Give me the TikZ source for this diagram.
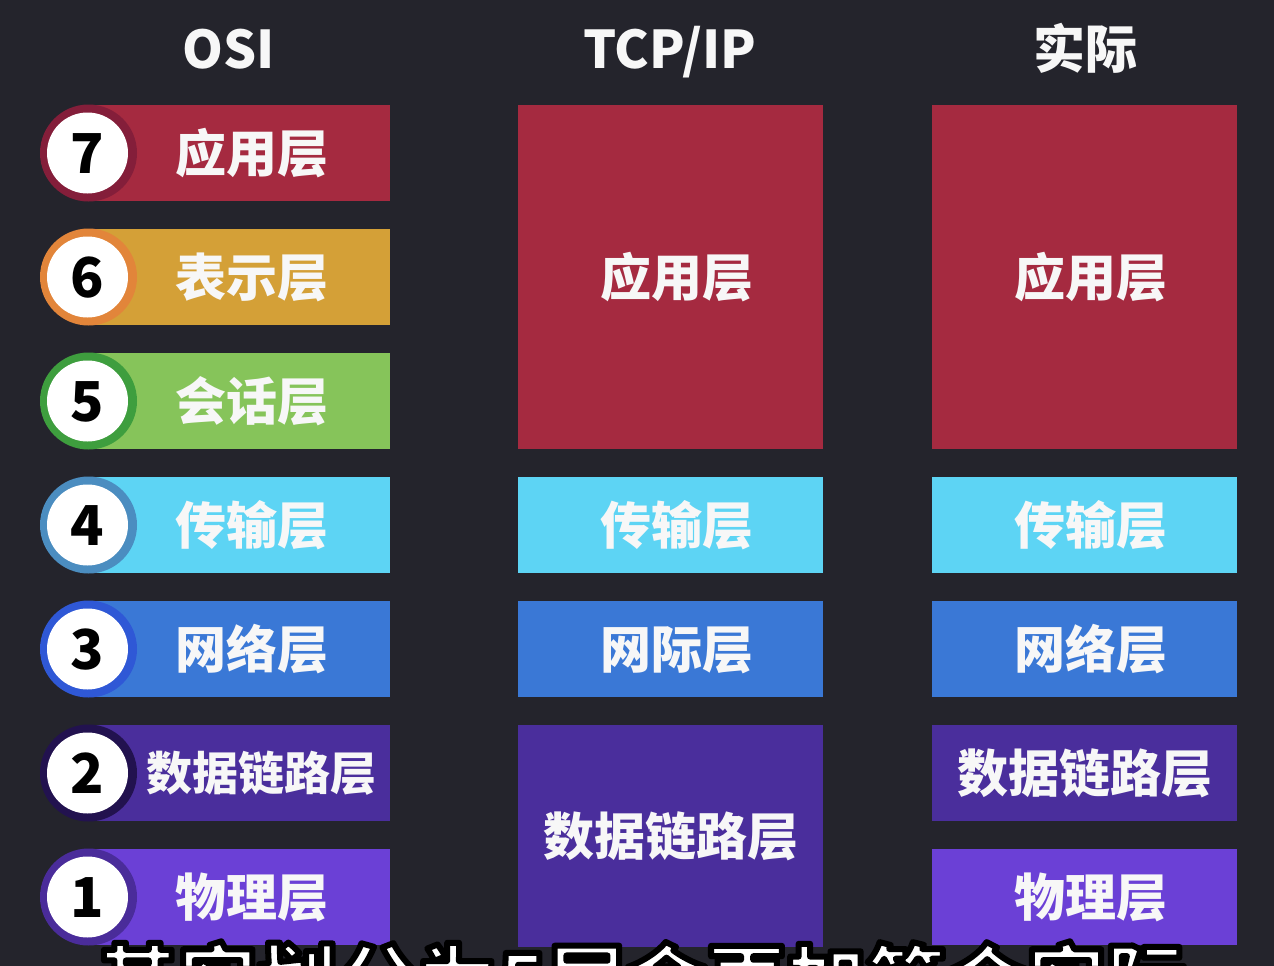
\documentclass[tikz,border=0pt]{standalone}
\usepackage{fontspec}
\setmainfont{Noto Sans CJK SC}
\definecolor{bg}{HTML}{24242C}
\definecolor{cRed}{HTML}{A52A40}\definecolor{rRed}{HTML}{841E3A}
\definecolor{cYel}{HTML}{D4A037}\definecolor{rYel}{HTML}{E2853A}
\definecolor{cGrn}{HTML}{86C45A}\definecolor{rGrn}{HTML}{3E9E3E}
\definecolor{cCya}{HTML}{5DD4F4}\definecolor{rCya}{HTML}{4B8DC0}
\definecolor{cBlu}{HTML}{3A78D6}\definecolor{rBlu}{HTML}{2F58D6}
\definecolor{cDpu}{HTML}{4A2E9C}\definecolor{rDpu}{HTML}{22124F}
\definecolor{cPur}{HTML}{6B40D6}\definecolor{rPur}{HTML}{4A2C9A}
\definecolor{txt}{HTML}{F7F7F7}
\newcommand\outlinetext[1]{\special{pdf:literal direct 0 0 0 RG 6 w 1 j 2 Tr}#1\special{pdf:literal direct 0 Tr}}
\begin{document}
\begin{tikzpicture}[x=1pt,y=-1pt,
  hdr/.style={font=\bfseries\fontsize{52}{52}\selectfont, text=txt, anchor=base, inner sep=0pt},
  barbox/.style={rectangle, inner sep=0pt, draw=none},
  lbl/.style={font=\bfseries\fontsize{51}{51}\selectfont, text=txt, inner sep=0pt, text height=38pt, text depth=0pt},
  lblsm/.style={font=\bfseries\fontsize{46}{46}\selectfont, text=txt, inner sep=0pt, text height=34pt, text depth=0pt},
  ringc/.style={circle, inner sep=0pt, minimum size=97pt},
  numc/.style={circle, fill=white, inner sep=0pt, minimum size=81pt, font=\bfseries\fontsize{55}{55}\selectfont, text=black, text height=40pt, text depth=0pt},
  sub/.style={font=\bfseries\fontsize{80}{80}\selectfont, anchor=base, inner sep=0pt}
]
\fill[bg] (0,0) rectangle (1274,966);
\useasboundingbox (0,0) rectangle (1274,966);
\begin{scope}
\clip (0,0) rectangle (1274,966);
% headers
\node[hdr] (hOSI) at (229,68) {OSI};
\node[hdr] (hTCP) at (670,68) {TCP/IP};
\node[hdr] (hReal) at (1085,68) {实际};

% OSI column
\foreach \n/\c/\r/\t/\s in {7/cRed/rRed/应用层/lbl, 6/cYel/rYel/表示层/lbl, 5/cGrn/rGrn/会话层/lbl, 4/cCya/rCya/传输层/lbl, 3/cBlu/rBlu/网络层/lbl, 1/cPur/rPur/物理层/lbl}{
  \pgfmathsetmacro{\yc}{153+124*(7-\n)}
  \node[barbox, fill=\c, minimum width=300pt, minimum height=96pt] (obar\n) at (240,\yc) {};
  \node[\s] (olbl\n) at (252,\yc) {\t};
  \node[ringc, fill=\r] (oring\n) at (88.5,\yc) {};
  \node[numc] (onum\n) at (87.5,\yc) {\n};
}
\node[barbox, fill=cDpu, minimum width=300pt, minimum height=96pt] (obar2) at (240,773) {};
\node[lblsm] (olbl2) at (261,773) {数据链路层};
\node[ringc, fill=rDpu] (oring2) at (88.5,773) {};
\node[numc] (onum2) at (87.5,773) {2};

% TCP/IP column
\node[barbox, fill=cRed, minimum width=305pt, minimum height=344pt] (tApp) at (670.5,277) {};
\node[lbl] (tAppL) at (676.5,277) {应用层};
\node[barbox, fill=cCya, minimum width=305pt, minimum height=96pt] (tTra) at (670.5,525) {};
\node[lbl] (tTraL) at (676.5,525) {传输层};
\node[barbox, fill=cBlu, minimum width=305pt, minimum height=96pt] (tNet) at (670.5,649) {};
\node[lbl] (tNetL) at (676.5,649) {网际层};
\node[barbox, fill=cDpu, minimum width=305pt, minimum height=222pt, lbl] (tDat) at (670.5,836) {数据链路层};

% Real column
\node[barbox, fill=cRed, minimum width=305pt, minimum height=344pt] (rApp) at (1084.5,277) {};
\node[lbl] (rAppL) at (1090.5,277) {应用层};
\node[barbox, fill=cCya, minimum width=305pt, minimum height=96pt] (rTra) at (1084.5,525) {};
\node[lbl] (rTraL) at (1090.5,525) {传输层};
\node[barbox, fill=cBlu, minimum width=305pt, minimum height=96pt] (rNet) at (1084.5,649) {};
\node[lbl] (rNetL) at (1090.5,649) {网络层};
\node[barbox, fill=cDpu, minimum width=305pt, minimum height=96pt, lbl] (rDat) at (1084.5,773) {数据链路层};
\node[barbox, fill=cPur, minimum width=305pt, minimum height=96pt] (rPhy) at (1084.5,897) {};
\node[lbl] (rPhyL) at (1090.5,897) {物理层};

% subtitle (cut off by the lower edge)
\node[sub, text=white] (subt) at (642,1011) {\outlinetext{其实划分为5层会更加符合实际}};
\end{scope}
\end{tikzpicture}
\end{document}
